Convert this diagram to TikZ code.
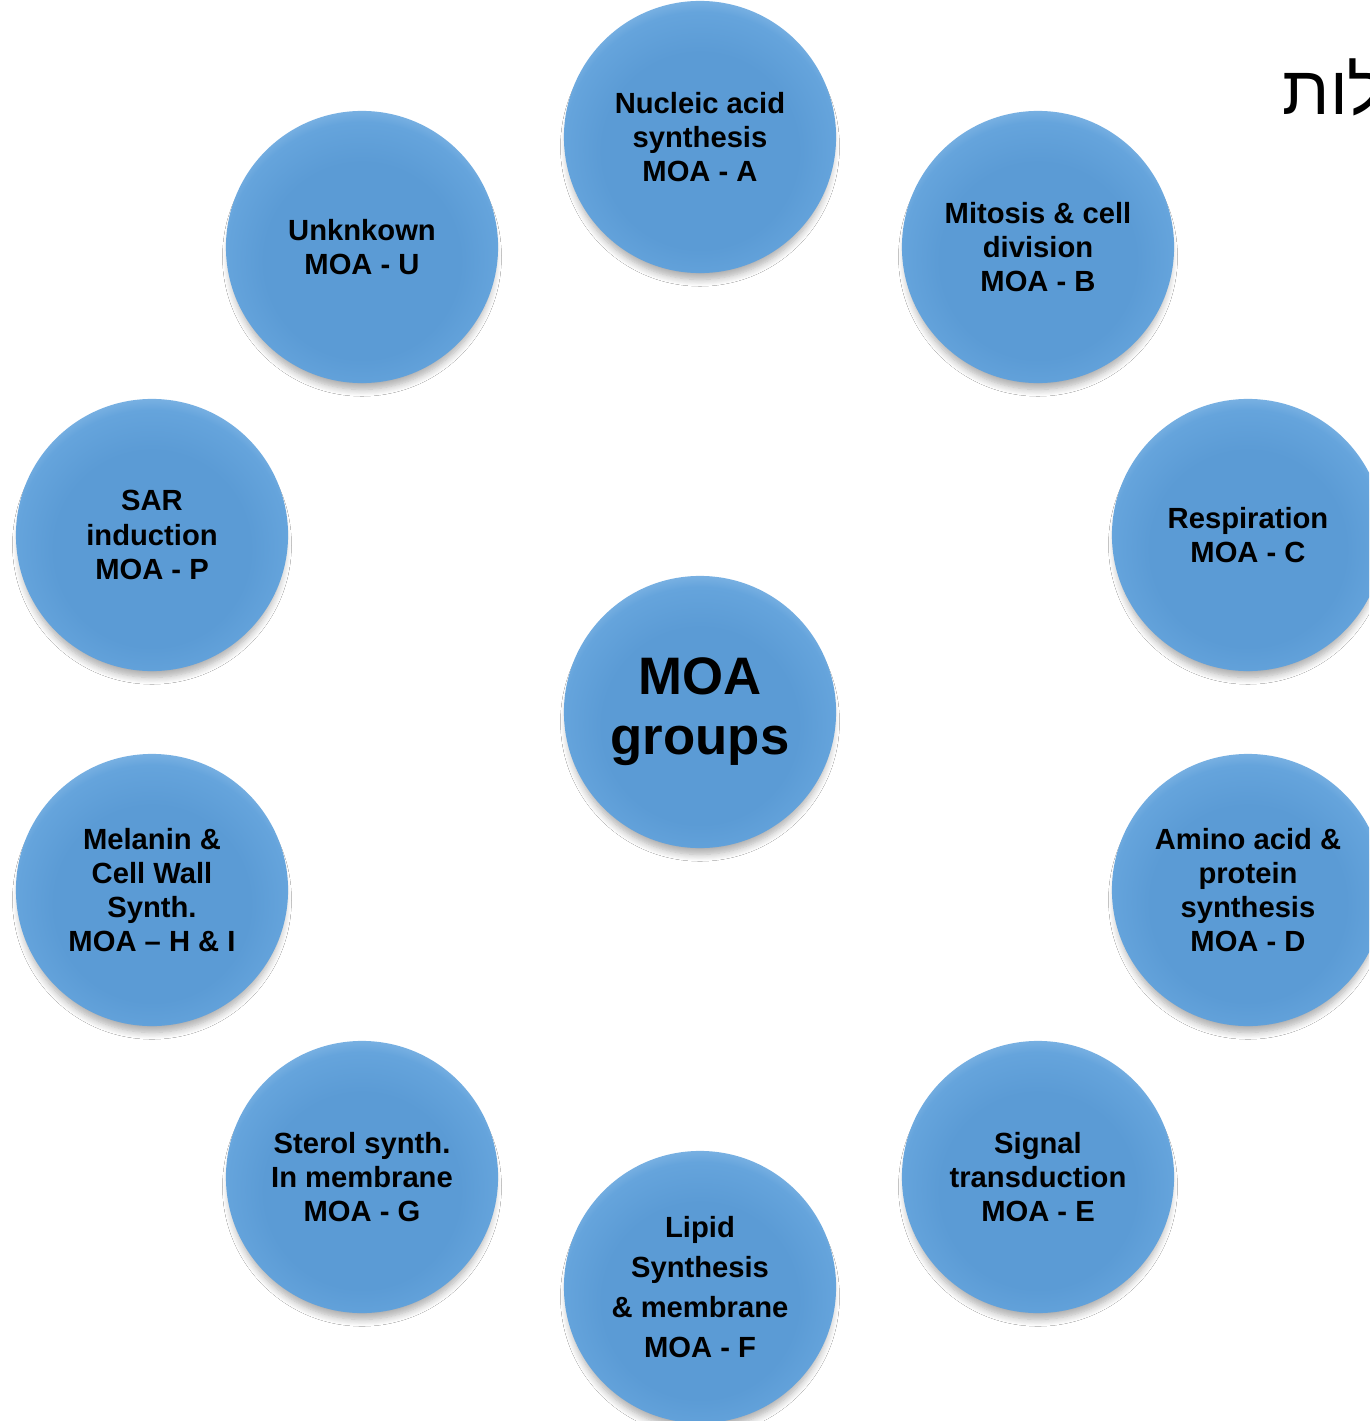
\documentclass[tikz,border=0pt]{standalone}
\usepackage{fontspec}
\setmainfont{Liberation Sans}
\newfontfamily\hebfont[Script=Hebrew]{Liberation Sans}
\TeXXeTstate=1
\usetikzlibrary{shadows.blur}
\definecolor{ballmid}{RGB}{91,155,213}
\definecolor{ballhi}{RGB}{101,164,220}
\definecolor{ballrimc}{RGB}{165,205,240}
% flat blue body with a light rim towards the top edge
\pgfdeclareradialshading{ballrim}{\pgfpoint{0bp}{-4bp}}{%
  color(0bp)=(ballmid); color(18bp)=(ballmid); color(25bp)=(ballhi);
  color(27.5bp)=(ballhi!60!ballrimc); color(29bp)=(ballrimc); color(50bp)=(ballrimc)}
\tikzset{
  ball/.style={circle, minimum size=2.72cm, inner sep=0pt,
    shading=ballrim,
    blur shadow={shadow xshift=0pt, shadow yshift=-0.1cm, shadow scale=0.975,
      shadow blur steps=8, shadow opacity=32, shadow blur radius=0.07cm},
    align=center, font=\bfseries\fontsize{8.3}{9.7}\selectfont},
  hub/.style={ball, font=\bfseries\fontsize{15}{17}\selectfont}
}
\begin{document}
\begin{tikzpicture}[x=0.01cm, y=-0.01cm]
\useasboundingbox (0,0) rectangle (1369,1421);
\clip (0,0) rectangle (1369,1421);
\fill[white] (0,0) rectangle (1369,1421);

\node[hub] (hub) at (700,712) {MOA\\groups};
\node[ball] (a) at (700,137) {Nucleic acid\\synthesis\\MOA - A};
\node[ball] (b) at (1038,247) {Mitosis \& cell\\division\\MOA - B};
\node[ball] (c) at (1248,535) {Respiration\\MOA - C};
\node[ball] (d) at (1248,890) {Amino acid \&\\protein\\synthesis\\MOA - D};
\node[ball] (e) at (1038,1177) {Signal\\transduction\\MOA - E};
\node[ball, font=\bfseries\fontsize{8.3}{11.4}\selectfont] (f) at (700,1287) {Lipid\\Synthesis\\\& membrane\\MOA - F};
\node[ball] (g) at (362,1177) {Sterol synth.\\In membrane\\MOA - G};
\node[ball] (hi) at (152,890) {Melanin \&\\Cell Wall\\Synth.\\MOA -- H \& I};
\node[ball] (p) at (152,535) {SAR\\induction\\MOA - P};
\node[ball] (u) at (362,247) {Unknkown\\MOA - U};

\node[anchor=base west, inner sep=0pt, font=\fontsize{19.5}{22}\selectfont] (heb) at (1282,114) {\hebfont\beginR לות\endR};
\end{tikzpicture}
\end{document}
